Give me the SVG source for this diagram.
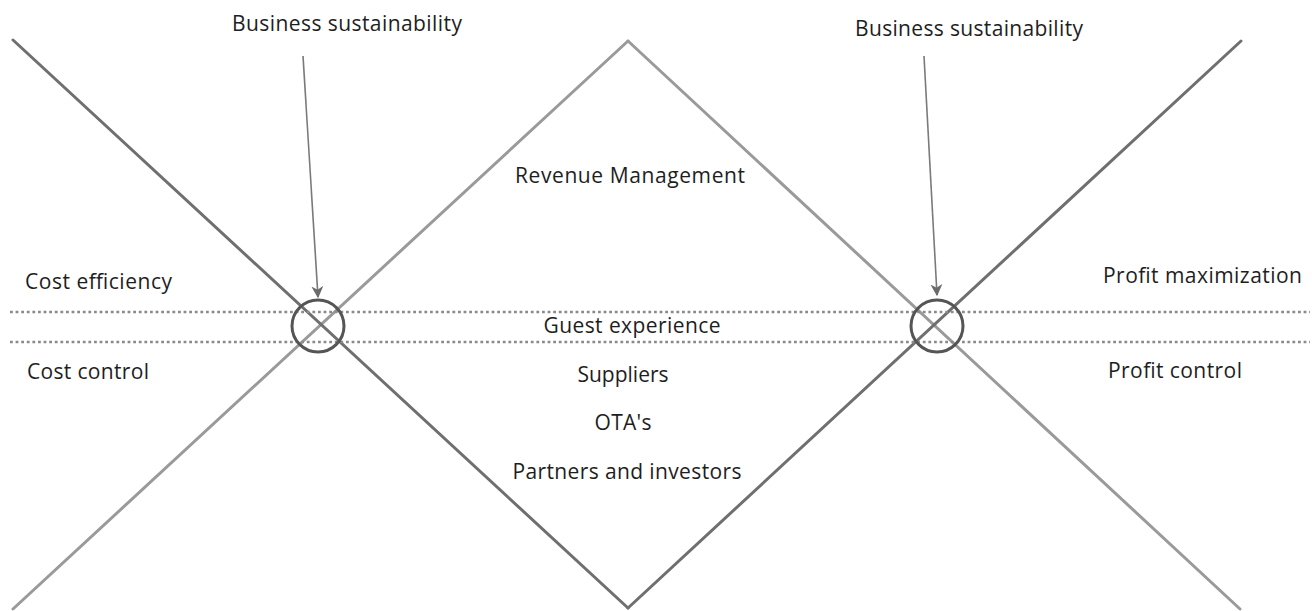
<svg xmlns="http://www.w3.org/2000/svg" width="1312" height="611" viewBox="0 0 1312 611">
  <defs>
    <style>
      .t { font-family: "Open Sans", "Liberation Sans", sans-serif; font-size: 21px; fill: #1e1e1e; }
      .dark { stroke: #6f6f6f; stroke-width: 3; fill: none; stroke-linecap: round; }
      .light { stroke: #9a9a9a; stroke-width: 3; fill: none; stroke-linecap: round; }
      .dot { stroke: #8a8a8a; stroke-width: 2.6; stroke-dasharray: 2.8 2.8; fill: none; }
      .ring { stroke: #555555; stroke-width: 3; fill: none; }
      .arrow { stroke: #7a7a7a; stroke-width: 1.6; fill: none; }
    </style>
    <marker id="ah" viewBox="0 0 10 10" refX="9" refY="5" markerWidth="12" markerHeight="12" markerUnits="userSpaceOnUse" orient="auto">
      <path d="M0,0 L10,5 L0,10 L3,5 Z" fill="#6a6a6a"/>
    </marker>
  </defs>
  <rect width="1312" height="611" fill="#ffffff"/>

  <g id="connectors">
    <line class="light" x1="13" y1="609" x2="628" y2="41"/>
    <line class="light" x1="628" y1="41" x2="1240" y2="609"/>
    <line class="dark" x1="13" y1="40" x2="628" y2="608"/>
    <line class="dark" x1="628" y1="608" x2="1241" y2="41"/>
    <line class="dot" x1="10" y1="312" x2="1310" y2="312"/>
    <line class="dot" x1="10" y1="342" x2="1310" y2="342"/>
    <line class="arrow" x1="303" y1="56" x2="318" y2="297" marker-end="url(#ah)"/>
    <line class="arrow" x1="924" y1="56" x2="937" y2="295" marker-end="url(#ah)"/>
  </g>

  <g id="node-left-circle"><circle class="ring" cx="318" cy="326" r="26"/></g>
  <g id="node-right-circle"><circle class="ring" cx="937" cy="326" r="26"/></g>

  <g id="node-bs-left"><text class="t" x="347" y="31" text-anchor="middle" textLength="230">Business sustainability</text></g>
  <g id="node-bs-right"><text class="t" x="969" y="36" text-anchor="middle" textLength="228">Business sustainability</text></g>
  <g id="node-revenue"><text class="t" x="630" y="183" text-anchor="middle" textLength="230">Revenue Management</text></g>
  <g id="node-cost-eff"><text class="t" x="25" y="289" textLength="147">Cost efficiency</text></g>
  <g id="node-cost-ctrl"><text class="t" x="27" y="379" textLength="122">Cost control</text></g>
  <g id="node-profit-max"><text class="t" x="1103" y="283" textLength="199">Profit maximization</text></g>
  <g id="node-profit-ctrl"><text class="t" x="1108" y="378" textLength="134">Profit control</text></g>
  <g id="node-guest"><text class="t" x="632" y="333" text-anchor="middle" textLength="177">Guest experience</text></g>
  <g id="node-suppliers"><text class="t" x="623" y="382" text-anchor="middle" textLength="91">Suppliers</text></g>
  <g id="node-otas"><text class="t" x="623" y="430" text-anchor="middle" textLength="57">OTA's</text></g>
  <g id="node-partners"><text class="t" x="627" y="479" text-anchor="middle" textLength="229">Partners and investors</text></g>
</svg>
